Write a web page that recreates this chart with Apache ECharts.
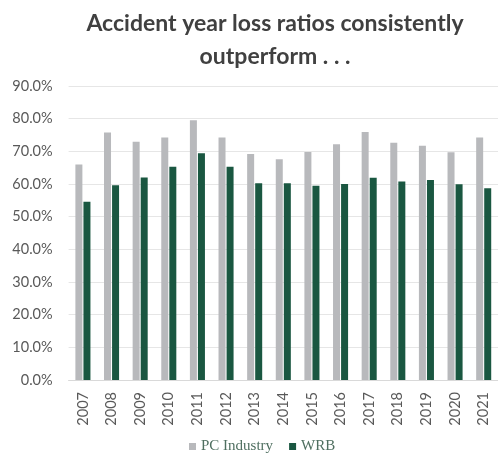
<!DOCTYPE html>
<html style="height: 100%">
<head>
    <meta charset="utf-8">
</head>
<body style="height: 100%; margin: 0; background: #fff">
    <div id="container" style="width: 498px; height: 457px"></div>
    <script src="https://cdn.jsdelivr.net/npm/echarts@6/dist/echarts.min.js"></script>
    <script type="text/javascript">
        var years = ['2007', '2008', '2009', '2010', '2011', '2012', '2013', '2014',
            '2015', '2016', '2017', '2018', '2019', '2020', '2021'];
        var pcIndustry = [66.0, 75.8, 72.9, 74.2, 79.5, 74.2, 69.2, 67.6, 69.8, 72.2, 75.9, 72.6, 71.7, 69.7, 74.2];
        var wrb = [54.6, 59.6, 62.0, 65.3, 69.4, 65.3, 60.2, 60.2, 59.5, 60.0, 61.9, 60.8, 61.2, 59.9, 58.7];

        var myChart = echarts.init(document.getElementById('container'));
        var option = {
            animation: false,
            title: {
                text: 'Accident year loss ratios consistently\noutperform . . .',
                left: 270,
                top: 2,
                textAlign: 'center',
                textStyle: {
                    fontFamily: 'Lato',
                    fontWeight: 'bold',
                    fontSize: 23,
                    lineHeight: 33,
                    color: '#404040'
                }
            },
            legend: {
                bottom: -2,
                left: 184,
                itemWidth: 7,
                itemHeight: 7,
                itemGap: 16,
                itemTextGap: 5,
                icon: 'rect',
                textStyle: {
                    fontFamily: 'Liberation Serif',
                    fontSize: 15,
                    color: '#4f6f60'
                },
                data: ['PC Industry', 'WRB']
            },
            grid: {
                left: 68.6,
                right: 0,
                top: 86,
                bottom: 77
            },
            xAxis: {
                type: 'category',
                data: years,
                axisTick: { show: false },
                axisLine: { lineStyle: { color: '#d9d9d9' } },
                axisLabel: {
                    rotate: 90,
                    margin: 12,
                    fontFamily: 'Lato',
                    fontSize: 14.5,
                    color: '#595959'
                }
            },
            yAxis: {
                type: 'value',
                min: 0,
                max: 90,
                interval: 10,
                splitLine: { lineStyle: { color: '#e6e6e6' } },
                axisLabel: {
                    margin: 16,
                    fontFamily: 'Lato',
                    fontSize: 14.5,
                    color: '#595959',
                    formatter: function (v) { return v.toFixed(1) + '%'; }
                }
            },
            series: [
                {
                    name: 'PC Industry',
                    type: 'bar',
                    data: pcIndustry,
                    barWidth: 7,
                    barGap: '15%',
                    itemStyle: { color: '#b8b9bc' }
                },
                {
                    name: 'WRB',
                    type: 'bar',
                    data: wrb,
                    barWidth: 7,
                    itemStyle: { color: '#1a5741' }
                }
            ]
        };
        myChart.setOption(option);
    </script>
</body>
</html>
